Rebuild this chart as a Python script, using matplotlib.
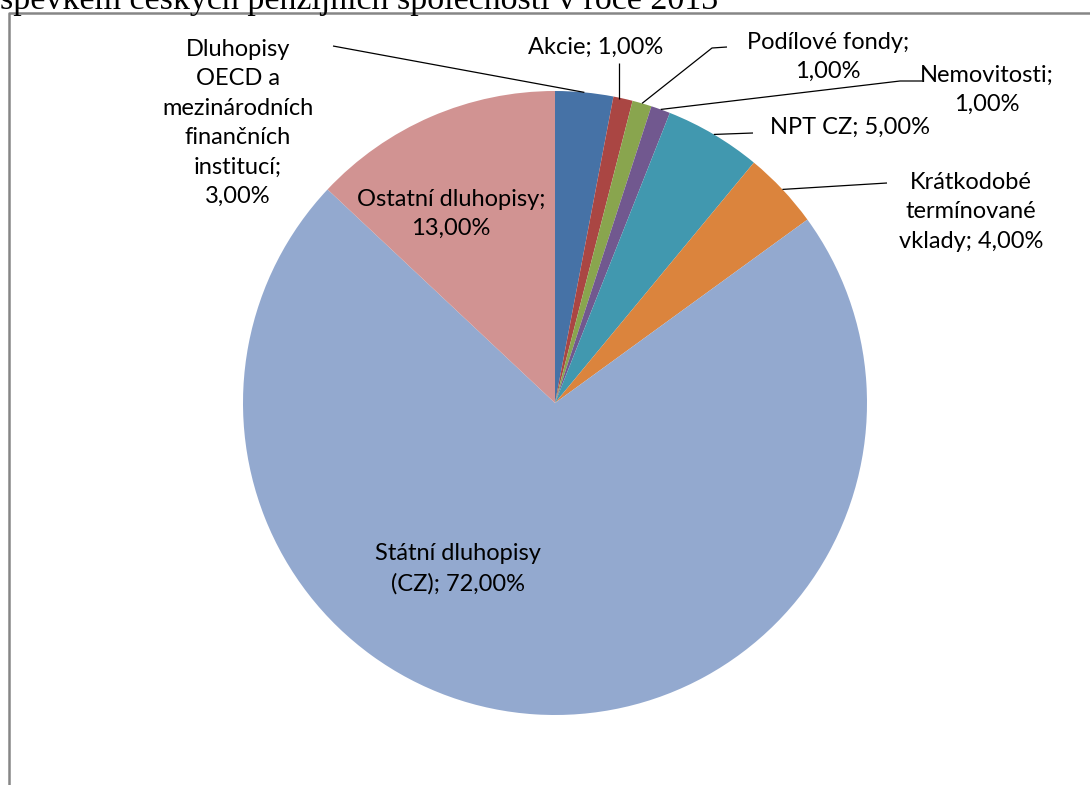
import numpy as np
import matplotlib.pyplot as plt

# Data: asset allocation of Czech pension companies (%)
labels = ["Dluhopisy\nOECD a\nmezinárodních\nfinančních\ninstitucí;\n3,00%",
          "Akcie; 1,00%",
          "Podílové fondy;\n1,00%",
          "Nemovitosti;\n1,00%",
          "NPT CZ; 5,00%",
          "Krátkodobé\ntermínované\nvklady; 4,00%",
          "Státní dluhopisy\n(CZ); 72,00%",
          "Ostatní dluhopisy;\n13,00%"]
shares = [3, 1, 1, 1, 5, 4, 72, 13]
colors = ["#4672A6", "#AA4643", "#89A54E", "#71588F",
          "#4198AF", "#DB843D", "#93A9CF", "#D19392"]
title = "spěvkem českých penzijních společností v roce 2013"

W, H = 1090, 785
fig = plt.figure(figsize=(W / 100, H / 100), dpi=100)
ax = fig.add_axes([0, 0, 1, 1])

def Y(y):
    return H - y

cx, cy, r = 555, 403, 312
wedges, _ = ax.pie(shares, colors=colors, startangle=90, counterclock=False,
                   center=(cx, Y(cy)), radius=r, frame=True,
                   wedgeprops=dict(linewidth=0))
ax.set_xlim(0, W)
ax.set_ylim(0, H)
ax.set_aspect("equal")
ax.axis("off")

def edge(i):
    w = wedges[i]
    a = np.deg2rad((w.theta1 + w.theta2) / 2)
    return cx + r * np.cos(a), Y(cy) + r * np.sin(a)

font = dict(family=["Lato", "DejaVu Sans"], fontsize=17, color="black",
            ha="center", va="center", linespacing=1.5)

# label centres (pixels, image coordinates)
pos = [(238, 123), (596, 47), (828, 57), (987, 90), (850, 127),
       (971, 212), (458, 569), (451, 214)]
for lab, (x, y) in zip(labels, pos):
    ax.text(x, Y(y), lab, **font)

# leader lines: anchor near label (+ optional elbow) -> wedge edge
leaders = {0: [(333, 46)],
           1: [None],
           2: [(727, 47), (712, 48)],
           3: [(922, 81), (900, 81)],
           4: [(753, 133)],
           5: [(887, 183)]}
for i, pts in leaders.items():
    ex, ey = edge(i)
    if pts[0] is None:
        xs, ys = [ex - 4, ex - 4], [Y(63), ey]
    else:
        xs = [p[0] for p in pts] + [ex]
        ys = [Y(p[1]) for p in pts] + [ey]
    ax.plot(xs, ys, color="black", lw=0.9, solid_capstyle="butt")

# chart frame (left and top visible)
ax.plot([8.5, 8.5, W + 5], [-5, Y(12.5), Y(12.5)], color="#868686", lw=1.8)

# cropped title (cut off at the top edge, as in the source)
ax.text(0, Y(9), title, family=["Liberation Serif", "DejaVu Serif"],
        fontsize=24.5, ha="left", va="baseline", color="black")

fig.savefig("out.png", dpi=100)
